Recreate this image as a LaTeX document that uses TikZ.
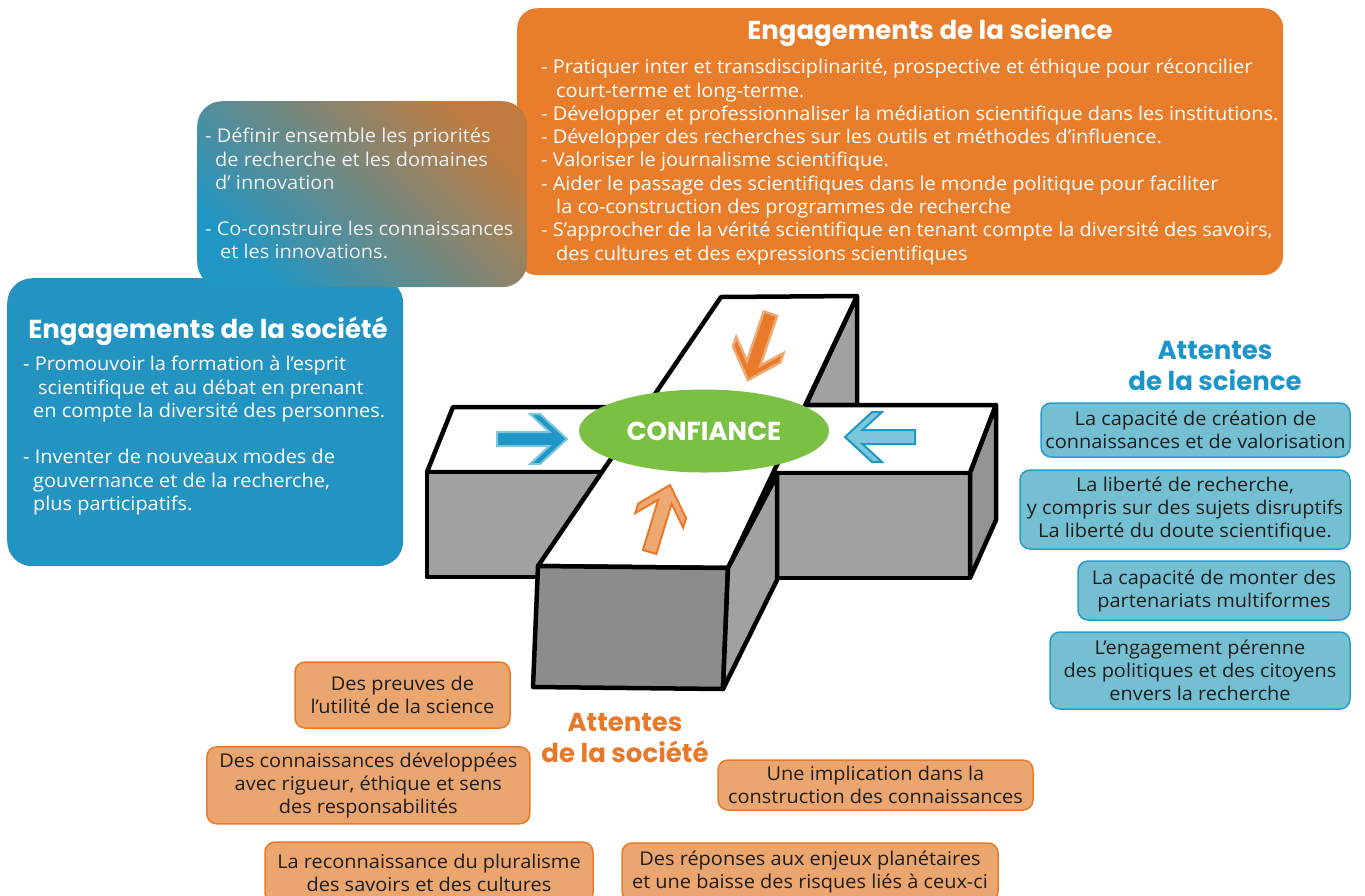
\documentclass[tikz,border=0pt]{standalone}
\usepackage{fontspec}
\setmainfont{Open Sans}[FakeStretch=1.05]
\newfontfamily\titlefont{Poppins}
\usetikzlibrary{shapes.geometric}
\definecolor{engsci}{HTML}{E87D2B}
\definecolor{engsoc}{HTML}{2394C2}
\definecolor{lblue}{HTML}{74C0D2}
\definecolor{lblueline}{HTML}{2B9BC9}
\definecolor{lorange}{HTML}{EBA56F}
\definecolor{lorangeline}{HTML}{E97A2A}
\definecolor{confgreen}{HTML}{7AC143}
\definecolor{tblue}{HTML}{1E95C8}
\definecolor{torange}{HTML}{E8792B}
\definecolor{greyA}{HTML}{A0A1A3}
\definecolor{greyB}{HTML}{8B8C8C}
\definecolor{greyC}{HTML}{939495}
\definecolor{txtdark}{HTML}{1E1E1E}
\definecolor{gradA}{HTML}{C07C40}
\definecolor{gradM}{HTML}{7A7D6E}
\definecolor{gradB}{HTML}{2096C4}
\definecolor{arlblue}{HTML}{7CC6DA}
\definecolor{ardblue}{HTML}{1E96C8}
\definecolor{arorange}{HTML}{E97A2A}
\definecolor{arlorange}{HTML}{EEA872}
\tikzset{
  pics/chevron/.style={code={
    \draw[pic actions] (0,0) -- (-27,-25) -- (-37,-25) -- (-17.5,-7) -- (-70,-7)
      -- (-70,7) -- (-17.5,7) -- (-37,25) -- (-27,25) -- cycle;}}
}
\begin{document}
\begin{tikzpicture}[x=1pt,y=-1pt,
  body/.style={font=\fontsize{19}{23.3}\selectfont, align=left, anchor=north west, inner sep=0pt, text=white},
  ttl/.style={font=\titlefont\bfseries\fontsize{26}{31}\selectfont, inner sep=0pt, align=center},
  smallbox/.style={line width=1.5pt, rounded corners=10pt, align=center, text=txtdark,
    font=\fontsize{19}{23}\selectfont, inner sep=0pt},
  rbox/.style={smallbox, draw=lblueline, fill=lblue},
  obox/.style={smallbox, draw=lorangeline, fill=lorange},
  face/.style={draw=black, line width=4.5pt, line join=round},
  bigbox/.style={anchor=north west, inner sep=0pt}
]
\useasboundingbox (0,0) rectangle (1365,895);
\clip (0,0) rectangle (1365,895);

% ---- big boxes
\node (sci) [bigbox, fill=engsci, rounded corners=20pt, minimum width=766pt, minimum height=267pt] at (517,8) {};
\node (soc) [bigbox, fill=engsoc, rounded corners=25pt, minimum width=396pt, minimum height=288pt] at (7,278) {};
\node (cocon) [bigbox, rounded corners=25pt, minimum width=330pt, minimum height=186pt,
  shading=axis, top color=gradA, middle color=gradM, bottom color=gradB, shading angle=-45] at (197,101) {};

\node (scititle) [ttl, text=white] at (930,33) {Engagements de la science};
\node (scitext) [body] at (541,59) {- Pratiquer inter et transdisciplinarité, prospective et éthique pour réconcilier\\
\hspace*{15pt}court-terme et long-terme.\\
- Développer et professionnaliser la médiation scientifique dans les institutions.\\
- Développer des recherches sur les outils et méthodes d'influence.\\
- Valoriser le journalisme scientifique.\\
- Aider le passage des scientifiques dans le monde politique pour faciliter\\
\hspace*{15pt}la co-construction des programmes de recherche\\
- S'approcher de la vérité scientifique en tenant compte la diversité des savoirs,\\
\hspace*{15pt}des cultures et des expressions scientifiques};

\node (soctitle) [ttl, text=white] at (208,331) {Engagements de la société};
\node (soctext) [body] at (23,356) {- Promouvoir la formation à l'esprit\\
\hspace*{15pt}scientifique et au débat en prenant\\
\hspace*{10pt}en compte la diversité des personnes.\\[23.3pt]
- Inventer de nouveaux modes de\\
\hspace*{10pt}gouvernance et de la recherche,\\
\hspace*{10pt}plus participatifs.};

\node (cocontext) [body, text={white!94!black}] at (205,128) {- Définir ensemble les priorités\\
\hspace*{10pt}de recherche et les domaines\\
\hspace*{10pt}d' innovation\\[23pt]
- Co-construire les connaissances\\
\hspace*{15pt}et les innovations.};

% ---- cross
\path[face, fill=greyA] (857,296) -- (857,405) -- (806,405) -- cycle;
% left arm
\path[face, fill=white] (453,407) -- (680,407) -- (660,472) -- (427,472) -- cycle;
\path[face, fill=greyA] (427,472) -- (612,472) -- (612,577) -- (427,577) -- cycle;
% right arm
\path[face, fill=white] (790,405) -- (996,405) -- (970,473) -- (770,473) -- cycle;
\path[face, fill=greyA] (777,473) -- (970,473) -- (970,578) -- (777,578) -- cycle;
\path[face, fill=greyC] (970,473) -- (996,405) -- (996,520) -- (970,578) -- cycle;
% vertical bar
\path[face, fill=white] (721,297) -- (857,296) -- (728,568) -- (538,566) -- cycle;
\path[face, fill=greyB] (538,566) -- (728,568) -- (723,689) -- (533,687) -- cycle;
\path[face, fill=greyA] (728,568) -- (777,475) -- (777,580) -- (723,689) -- cycle;

\node (conf) [ellipse, fill=confgreen, minimum width=250pt, minimum height=83pt, inner sep=0pt] at (704,431) {};
\node (conftext) [font=\titlefont\bfseries\fontsize{26}{26}\selectfont, text=white, inner sep=0pt] at (704,431) {CONFIANCE};

\pic[fill=ardblue, draw=arlblue, line width=2pt, line join=miter] at (567,439) {chevron};
\pic[fill=arlblue, draw=ardblue, line width=2pt, rotate=180] at (845,437) {chevron};
\pic[fill=arorange, draw=arlorange, line width=2.5pt, rotate=-108.7] at (748,380) {chevron};
\pic[fill=arlorange, draw=arorange, line width=2pt, rotate=73.1] at (670,485) {chevron};

% ---- attentes de la science
\node (attsci) [ttl, text=tblue] at (1215,366) {Attentes\\de la science};
\node (as1) [rbox, minimum width=309pt, minimum height=54pt] at (1195.5,430) {La capacité de création de\\connaissances et de valorisation};
\node (as2) [rbox, minimum width=330pt, minimum height=79pt] at (1185,509.5) {La liberté de recherche,\\y compris sur des sujets disruptifs\\La liberté du doute scientifique.};
\node (as3) [rbox, minimum width=272pt, minimum height=59pt] at (1214,590.5) {La capacité de monter des\\partenariats multiformes};
\node (as4) [rbox, minimum width=300pt, minimum height=77pt] at (1200,670.5) {L'engagement pérenne\\des politiques et des citoyens\\envers la recherche};

% ---- attentes de la société
\node (attsoc) [ttl, text=torange] at (625,738) {Attentes\\de la société};
\node (ao1) [obox, minimum width=215pt, minimum height=66pt] at (402.5,695) {Des preuves de\\l'utilité de la science};
\node (ao2) [obox, minimum width=323pt, minimum height=77pt] at (368.3,785.3) {Des connaissances développées\\avec rigueur, éthique et sens\\des responsabilités};
\node (ao3) [obox, minimum width=328pt, minimum height=61pt] at (429,872.5) {La reconnaissance du pluralisme\\des savoirs et des cultures};
\node (ao4) [obox, minimum width=315pt, minimum height=50pt] at (875.5,785) {Une implication dans la\\construction des connaissances};
\node (ao5) [obox, minimum width=376pt, minimum height=58pt] at (810,872) {Des réponses aux enjeux planétaires\\et une baisse des risques liés à ceux-ci};
\end{tikzpicture}
\end{document}
